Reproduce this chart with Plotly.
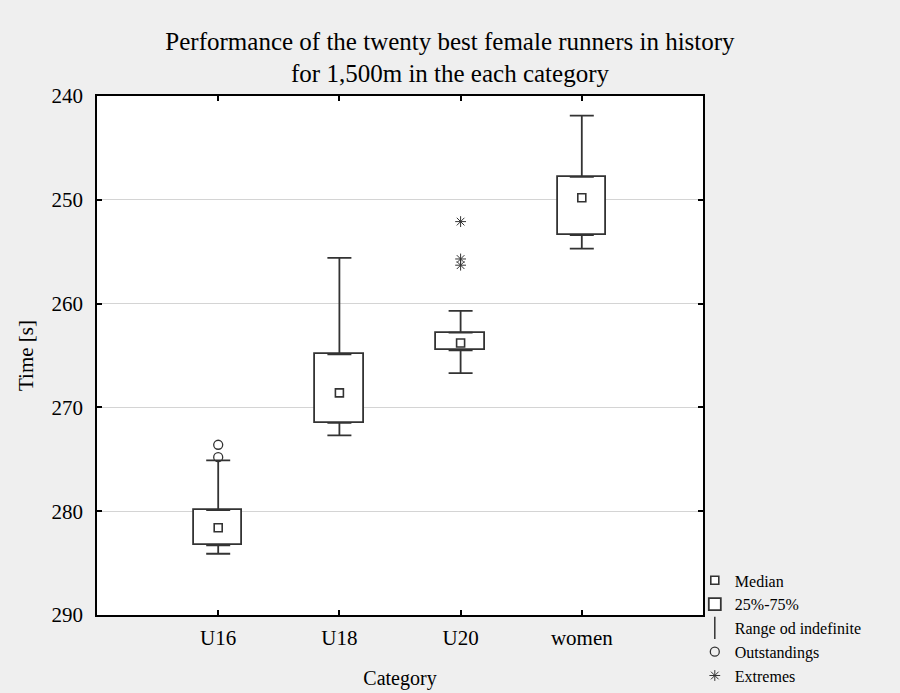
import plotly.graph_objects as go

categories = ["U16", "U18", "U20", "women"]
q1 = [279.9, 264.9, 262.8, 247.8]
q3 = [283.3, 271.5, 264.5, 253.4]
median = [281.6, 268.6, 263.8, 249.8]
whisker_low = [275.1, 255.6, 260.7, 241.9]
whisker_high = [284.1, 272.7, 266.7, 254.7]
outstanding_cat = ["U16", "U16"]
outstanding_val = [273.6, 274.8]
extreme_cat = ["U20", "U20", "U20"]
extreme_val = [252.1, 255.7, 256.3]
y_ticks = [240, 250, 260, 270, 280, 290]

ink = "#333333"
font_family = "Liberation Serif, Times New Roman, serif"

fig = go.Figure()

# Boxes (25%-75%)
fig.add_trace(go.Bar(
    x=categories, y=[b - a for a, b in zip(q1, q3)], base=q1, width=0.4,
    marker=dict(color="white", line=dict(color=ink, width=1.8)),
    name="25%-75%", legendrank=2, showlegend=True, hoverinfo="skip",
))

# Upper whiskers (toward faster times)
fig.add_trace(go.Scatter(
    x=categories, y=q1, mode="markers", marker=dict(size=1, opacity=0),
    error_y=dict(type="data", symmetric=False,
                 array=[0] * len(q1),
                 arrayminus=[a - w for a, w in zip(q1, whisker_low)],
                 color=ink, thickness=1.8, width=12),
    showlegend=False, hoverinfo="skip",
))
# Lower whiskers
fig.add_trace(go.Scatter(
    x=categories, y=q3, mode="markers", marker=dict(size=1, opacity=0),
    error_y=dict(type="data", symmetric=False,
                 array=[w - b for b, w in zip(q3, whisker_high)],
                 arrayminus=[0] * len(q3),
                 color=ink, thickness=1.8, width=12),
    showlegend=False, hoverinfo="skip",
))

# Medians
fig.add_trace(go.Scatter(
    x=categories, y=median, mode="markers",
    marker=dict(symbol="square", size=8, color="white", line=dict(color=ink, width=1.6)),
    name="Median", legendrank=1,
))

# Legend entry for range
fig.add_trace(go.Scatter(
    x=[None], y=[None], mode="markers",
    marker=dict(symbol="line-ns-open", size=18, color=ink, line=dict(color=ink, width=1.5)),
    name="Range od indefinite", legendrank=3,
))

# Outstandings
fig.add_trace(go.Scatter(
    x=outstanding_cat, y=outstanding_val, mode="markers",
    marker=dict(symbol="circle-open", size=9, color=ink, line=dict(color=ink, width=1.3)),
    name="Outstandings", legendrank=4,
))

# Extremes
fig.add_trace(go.Scatter(
    x=extreme_cat, y=extreme_val, mode="markers",
    marker=dict(symbol="asterisk-open", size=9, color=ink, line=dict(color=ink, width=1)),
    name="Extremes", legendrank=5,
))

fig.update_layout(
    width=900, height=693, autosize=False,
    paper_bgcolor="#efefef", plot_bgcolor="white",
    margin=dict(l=97, r=197, t=96, b=78, autoexpand=False),
    font=dict(family=font_family, size=18, color="black"),
    title=dict(
        text="Performance of the twenty best female runners in history<br>for 1,500m in the each category",
        x=0.5, xref="container", xanchor="center",
        y=0.928, yref="container", yanchor="middle",
        font=dict(size=25, family=font_family, color="black"),
    ),
    showlegend=True,
    legend=dict(
        x=0.772, xref="container", xanchor="left",
        y=0.187, yref="container", yanchor="top",
        bgcolor="rgba(0,0,0,0)", font=dict(size=16, family=font_family),
        tracegroupgap=0, itemwidth=30, traceorder="normal",
    ),
    bargap=0,
)

fig.update_xaxes(
    type="category", categoryorder="array", categoryarray=categories,
    range=[-1, 4], showgrid=False, zeroline=False,
    showline=True, linecolor="black", linewidth=1.5, mirror="ticks",
    ticks="inside", ticklen=5, tickcolor="black", tickwidth=1.5,
    ticklabelstandoff=3,
    tickfont=dict(size=21), title=dict(text="Category", font=dict(size=20), standoff=22),
)
fig.update_yaxes(
    range=[290, 240], tickvals=y_ticks, showgrid=True, gridcolor="#d4d4d4", gridwidth=1,
    zeroline=False, showline=True, linecolor="black", linewidth=1.5, mirror="ticks",
    ticks="inside", ticklen=5, tickcolor="black", tickwidth=1.5,
    ticklabelstandoff=8,
    tickfont=dict(size=21), title=dict(text="Time [s]", font=dict(size=21), standoff=12),
)

fig.write_html(
    "out.html",
    config={"displayModeBar": False},
    post_script="document.body.style.margin='0';document.body.style.overflow='hidden';",
)
